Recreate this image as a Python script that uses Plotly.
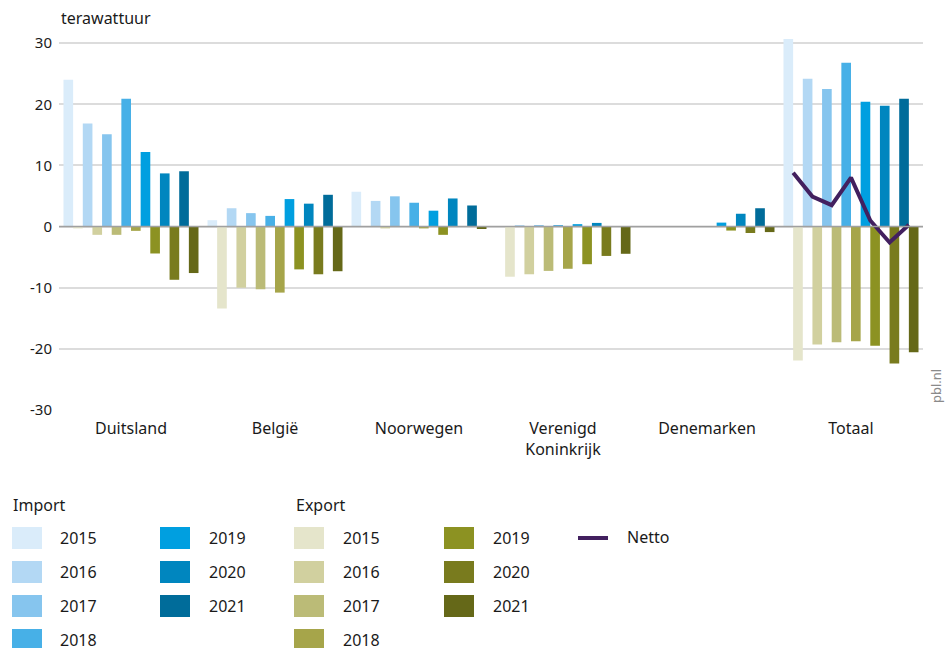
import plotly.graph_objects as go

# ---------------- data ----------------
categories = ["Duitsland", "België", "Noorwegen", "Verenigd<br>Koninkrijk", "Denemarken", "Totaal"]
years = ["2015", "2016", "2017", "2018", "2019", "2020", "2021"]

# import per year (rows = year, columns = category)
import_2015 = [24.0, 1.05, 5.7, 0.0, None, 30.7]
import_2016 = [16.85, 3.0, 4.2, 0.1, None, 24.2]
import_2017 = [15.1, 2.2, 4.95, 0.2, None, 22.5]
import_2018 = [20.9, 1.75, 3.9, 0.2, None, 26.8]
import_2019 = [12.2, 4.5, 2.6, 0.4, 0.65, 20.4]
import_2020 = [8.7, 3.75, 4.6, 0.6, 2.1, 19.75]
import_2021 = [9.05, 5.2, 3.45, 0.0, 3.0, 20.9]

export_2015 = [-0.3, -13.4, 0.0, -8.2, None, -21.9]
export_2016 = [-1.35, -10.0, -0.3, -7.8, None, -19.3]
export_2017 = [-1.35, -10.25, 0.0, -7.25, None, -18.9]
export_2018 = [-0.7, -10.8, -0.3, -6.9, None, -18.75]
export_2019 = [-4.4, -7.0, -1.35, -6.15, -0.65, -19.5]
export_2020 = [-8.7, -7.8, 0.0, -4.8, -1.05, -22.4]
export_2021 = [-7.6, -7.3, -0.4, -4.45, -0.9, -20.55]

netto_totaal = [8.8, 4.9, 3.5, 8.0, 1.0, -2.6, 0.3]

y_ticks = [-30, -20, -10, 0, 10, 20, 30]
y_ticktext = ["-30", "-20", "-10", "0", "10", "20", "30"]

import_series = [import_2015, import_2016, import_2017, import_2018, import_2019, import_2020, import_2021]
export_series = [export_2015, export_2016, export_2017, export_2018, export_2019, export_2020, export_2021]

import_colors = ["#daecfa", "#b3d8f4", "#86c5ee", "#47b0e7", "#009fe0", "#0086bf", "#006c9a"]
export_colors = ["#e5e5cb", "#d1d09f", "#bbbb77", "#a6a54a", "#8c9222", "#797b1e", "#656818"]
netto_color = "#42205f"

FONT = "Noto Sans"
TXT = "#1a1a1a"

# ---------------- geometry ----------------
W, H = 945, 648
L, R, T, B = 59, 22, 34, 238
plot_w = W - L - R
plot_h = H - T - B
group_width = 0.9375
nbars = 2 * len(years)
bw = group_width / nbars
start = -group_width / 2

x_idx = list(range(len(categories)))

fig = go.Figure()
for j, yr in enumerate(years):
    fig.add_trace(go.Bar(
        x=x_idx, y=import_series[j], width=bw, offset=start + 2 * j * bw,
        marker=dict(color=import_colors[j], line=dict(width=0)),
        name="Import " + yr, showlegend=False))
    fig.add_trace(go.Bar(
        x=x_idx, y=export_series[j], width=bw, offset=start + (2 * j + 1) * bw,
        marker=dict(color=export_colors[j], line=dict(width=0)),
        name="Export " + yr, showlegend=False))

tot = len(categories) - 1
netto_x = [tot + start + (2 * j + 1) * bw for j in range(len(years))]
fig.add_trace(go.Scatter(x=netto_x, y=netto_totaal, mode="lines",
                         line=dict(color=netto_color, width=4), name="Netto",
                         showlegend=False))

# ---------------- custom legend ----------------
def px2x(px):
    return (px - L) / plot_w

def py2y(py):
    return (H - B - py) / plot_h

shapes = []
annotations = []

# zero line
shapes.append(dict(type="line", xref="paper", yref="y", x0=0, x1=1, y0=0, y1=0,
                   line=dict(color="#a0a0a0", width=1.5), layer="above"))

row_y = [538, 572, 606, 640]
sw_w, sw_h = 30, 22

def swatch(x_left, yc, color):
    shapes.append(dict(type="rect", xref="paper", yref="paper",
                       x0=px2x(x_left), x1=px2x(x_left + sw_w),
                       y0=py2y(yc + sw_h / 2), y1=py2y(yc - sw_h / 2),
                       fillcolor=color, line=dict(width=0)))

def label(x_left, yc, text, size=16, color=TXT):
    annotations.append(dict(xref="paper", yref="paper", x=px2x(x_left), y=py2y(yc),
                            text=text, showarrow=False, xanchor="left", yanchor="middle",
                            font=dict(family=FONT, size=size, color=color)))

label(11, 505, "Import")
label(294, 505, "Export")
for j, yr in enumerate(years):
    if j < 4:
        xs, xt, yc = 12, 58, row_y[j]
        xs2, xt2 = 294, 341
    else:
        xs, xt, yc = 160, 207, row_y[j - 4]
        xs2, xt2 = 444, 491
    swatch(xs, yc, import_colors[j])
    label(xt, yc, yr)
    swatch(xs2, yc, export_colors[j])
    label(xt2, yc, yr)

shapes.append(dict(type="line", xref="paper", yref="paper",
                   x0=px2x(578), x1=px2x(608), y0=py2y(538), y1=py2y(538),
                   line=dict(color=netto_color, width=4)))
label(625, 537, "Netto")

# unit label
label(59, 18, "terawattuur")

# pbl.nl
annotations.append(dict(xref="paper", yref="paper", x=px2x(936), y=py2y(386),
                        text="pbl.nl", showarrow=False, textangle=-90,
                        xanchor="center", yanchor="middle",
                        font=dict(family=FONT, size=13, color="#8a8a8a")))

fig.update_layout(
    width=W, height=H,
    margin=dict(l=L, r=R, t=T, b=B, pad=0),
    paper_bgcolor="white", plot_bgcolor="white",
    barmode="overlay",
    font=dict(family=FONT, size=16, color=TXT),
    xaxis=dict(range=[-0.5, len(categories) - 0.5], tickvals=x_idx, ticktext=categories,
               showgrid=False, zeroline=False, showline=False, ticks="",
               ticklabelstandoff=7,
               tickfont=dict(family=FONT, size=16, color=TXT), fixedrange=True),
    yaxis=dict(range=[-30, 31.5], tickvals=y_ticks, ticktext=y_ticktext,
               showgrid=True, gridcolor="#dcdcdc", gridwidth=1.5,
               zeroline=False, showline=False, ticks="",
               ticklabelstandoff=6,
               tickfont=dict(family=FONT, size=15, color=TXT), fixedrange=True),
    shapes=shapes,
    annotations=annotations,
    showlegend=False,
)

fig.write_html(
    "out.html",
    config={"displayModeBar": False},
    post_script="document.body.style.margin='0';document.body.style.overflow='hidden';",
)
